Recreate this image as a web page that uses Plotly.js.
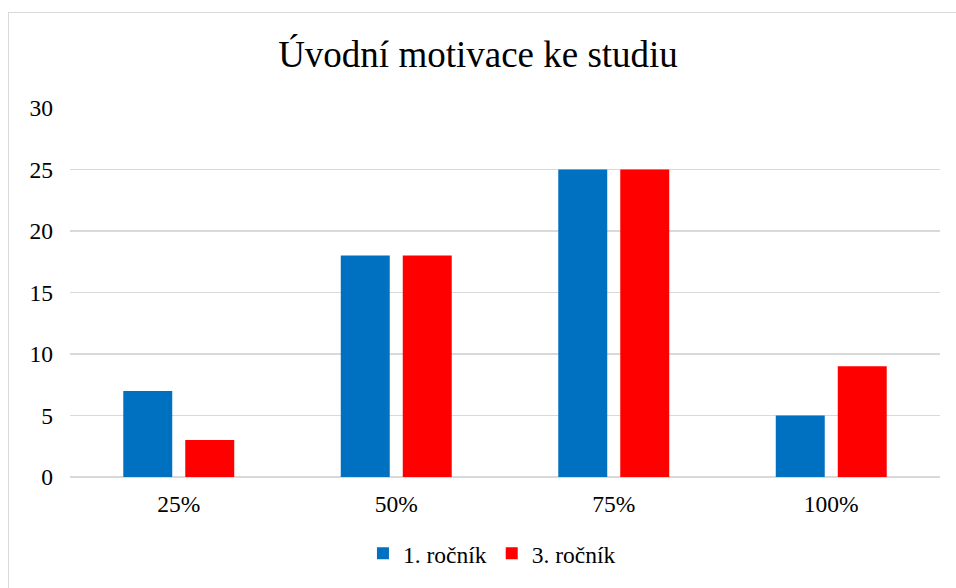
<!DOCTYPE html>
<html>
<head>
<meta charset="utf-8">
<script src="https://cdn.plot.ly/plotly-3.0.1.min.js"></script>
<style>
  html, body { margin: 0; padding: 0; background: #ffffff; }
  #frame { position: absolute; left: 8px; top: 12px; width: 960px; height: 600px; border: 1px solid #d9d9d9; box-sizing: border-box; }
  #chart { position: absolute; left: 0; top: 0; width: 956px; height: 588px; }
</style>
</head>
<body>
<div id="frame"></div>
<div id="chart"></div>
<script>
const categories = ["25%", "50%", "75%", "100%"];
const seriesNames = ["1. ročník", "3. ročník"];
const rocnik1 = [7, 18, 25, 5];
const rocnik3 = [3, 18, 25, 9];
const yTicks = [0, 5, 10, 15, 20, 25, 30];
const titleText = "Úvodní motivace ke studiu";

const font = "Liberation Serif";

const traces = [
  { type: "bar", name: seriesNames[0], x: categories, y: rocnik1, marker: { color: "#0070C0" }, hoverinfo: "x+y+name" },
  { type: "bar", name: seriesNames[1], x: categories, y: rocnik3, marker: { color: "#FF0000" }, hoverinfo: "x+y+name" }
];

const layout = {
  width: 956, height: 588,
  paper_bgcolor: "rgba(0,0,0,0)",
  plot_bgcolor: "rgba(0,0,0,0)",
  margin: { l: 70, r: 16, t: 108, b: 109 },
  title: { text: titleText, font: { family: font, size: 37, color: "#000000" }, x: 0.5, xanchor: "center", y: 1 - 54/588, yanchor: "middle", yref: "container" },
  font: { family: font, color: "#000000" },
  barmode: "group",
  bargap: 0.43,
  bargroupgap: 0.21,
  xaxis: {
    type: "category",
    showgrid: false, zeroline: false, showline: false,
    ticks: "", ticklabelstandoff: 10,
    tickfont: { family: font, size: 23.5, color: "#000000" },
    fixedrange: true
  },
  yaxis: {
    range: [0, 30], tickvals: yTicks, ticktext: yTicks.map(String),
    showgrid: true, gridcolor: "#d9d9d9", gridwidth: 1.5,
    zeroline: true, zerolinecolor: "#d9d9d9", zerolinewidth: 1.5,
    showline: false, ticks: "", ticklabelstandoff: 16,
    tickfont: { family: font, size: 23.5, color: "#000000" },
    fixedrange: true
  },
  showlegend: true,
  legend: {
    orientation: "h", x: 0.485, xanchor: "center", y: -(556-479)/371, yanchor: "middle",
    font: { family: font, size: 23.5, color: "#000000" },
    bgcolor: "rgba(0,0,0,0)"
  }
};

Plotly.newPlot("chart", traces, layout, { displayModeBar: false, staticPlot: true });
</script>
</body>
</html>
